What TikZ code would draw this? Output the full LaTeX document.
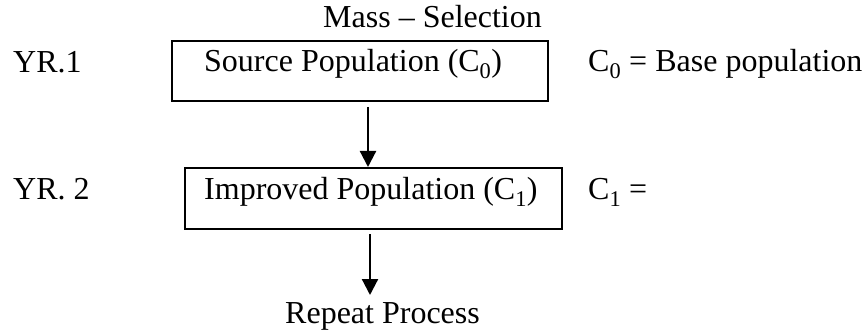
\documentclass[tikz,border=0pt]{standalone}
\usepackage{fontspec}
\setmainfont{Liberation Serif}
\usetikzlibrary{arrows.meta}
\begin{document}
\begin{tikzpicture}[x=1pt,y=-1pt,
  every node/.style={font=\fontsize{32}{38}\selectfont, inner sep=0pt},
  txt/.style={anchor=base west},
  stagebox/.style={draw, line width=2pt, minimum width=#1, minimum height=60pt},
  flow/.style={line width=2.2pt, -{Triangle[length=16pt,width=16pt]}}]
  \useasboundingbox (0,0) rectangle (865,334);

  % title
  \node[txt] (title) at (323,28) {Mass -- Selection};

  % year labels
  \node[txt] (yr1) at (13,73) {YR.1};
  \node[txt] (yr2) at (13,200) {YR. 2};

  % stage boxes
  \node[stagebox=376pt] (box1) at (360,71) {};
  \node[txt] (src) at (204,72) {Source Population (C\textsubscript{0})};
  \node[stagebox=377pt, minimum height=61pt] (box2) at (373.5,198.5) {};
  \node[txt] (imp) at (204,200) {Improved Population (C\textsubscript{1})};

  % notes to the right
  \node[txt] (note0) at (588,72) {C\textsubscript{0} = Base population};
  \node[txt] (note1) at (588,200) {C\textsubscript{1} =};

  % closing step
  \node[txt] (rep) at (285,323) {Repeat Process};

  % connectors
  \coordinate (a1) at (368,107);
  \coordinate (a2) at (370,234);
  \coordinate (e2) at (370,295);
  \draw[flow] (a1) -- (a1 |- box2.north);
  \draw[flow] (a2) -- (e2);
\end{tikzpicture}
\end{document}
